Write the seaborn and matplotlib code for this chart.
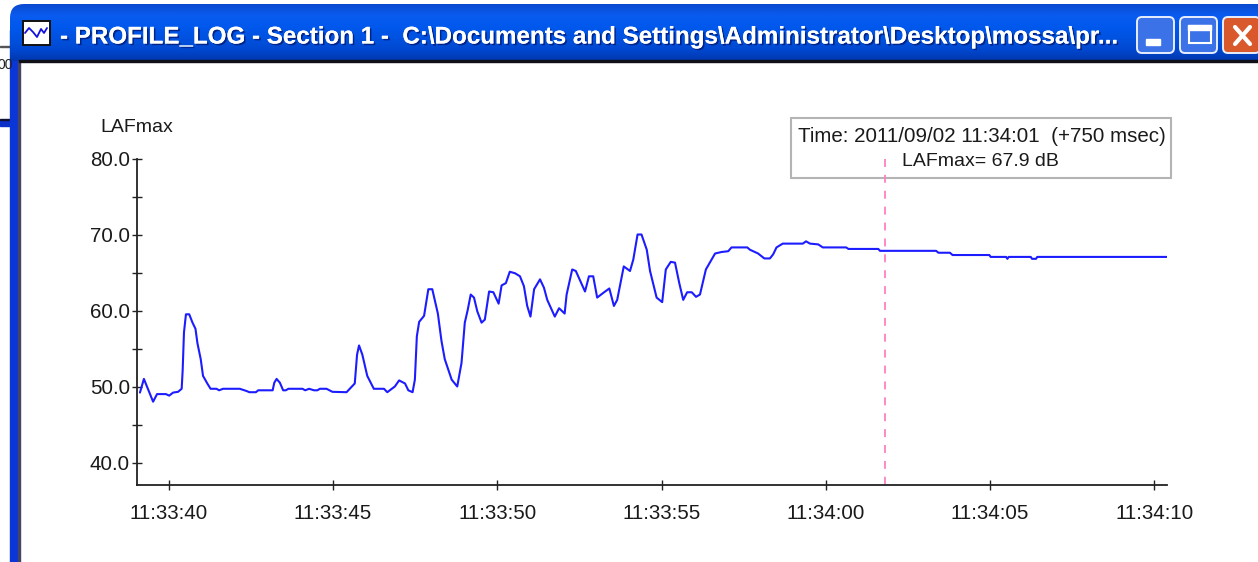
import numpy as np
import seaborn as sns
import matplotlib
matplotlib.use('Agg')
import matplotlib.pyplot as plt
import matplotlib.patheffects as pe
from matplotlib.colors import LinearSegmentedColormap
from matplotlib.patches import FancyBboxPatch, Rectangle

# seconds after 11:33:40
time_s = [
    -0.88, -0.76, -0.63, -0.48, -0.36, -0.09, 0.01, 0.13, 0.28, 0.39, 0.42, 0.46, 0.52, 0.62, 0.72, 0.81,
    0.87, 0.97, 1.04, 1.17, 1.27, 1.45, 1.53, 1.65, 2.16, 2.37, 2.45, 2.65, 2.72, 3.16, 3.21, 3.28,
    3.38, 3.48, 3.56, 3.64, 4.07, 4.15, 4.27, 4.42, 4.52, 4.60, 4.80, 4.98, 5.41, 5.66, 5.73, 5.79,
    5.89, 6.04, 6.24, 6.55, 6.65, 6.88, 7.01, 7.19, 7.29, 7.42, 7.49, 7.55, 7.62, 7.77, 7.90, 8.02,
    8.19, 8.30, 8.40, 8.61, 8.78, 8.91, 9.01, 9.10, 9.19, 9.29, 9.39, 9.52, 9.62, 9.75, 9.88, 10.04,
    10.13, 10.26, 10.38, 10.54, 10.69, 10.81, 10.91, 11.01, 11.12, 11.30, 11.42, 11.52, 11.75, 11.88, 12.05, 12.11,
    12.28, 12.39, 12.67, 12.79, 12.92, 13.04, 13.22, 13.41, 13.55, 13.65, 13.85, 14.04, 14.14, 14.27, 14.39, 14.55,
    14.65, 14.85, 15.02, 15.13, 15.28, 15.41, 15.54, 15.66, 15.78, 15.92, 16.05, 16.17, 16.35, 16.63, 16.83, 17.03,
    17.13, 17.61, 17.69, 17.94, 18.13, 18.30, 18.40, 18.50, 18.69, 19.30, 19.40, 19.52, 19.77, 19.91, 20.62, 20.69,
    21.60, 21.65, 23.36, 23.43, 23.78, 23.86, 24.98, 25.02, 25.49, 25.53, 25.57, 26.24, 26.28, 26.40, 26.44, 30.38,
]
laf_max = [
    49.2, 51.0, 49.6, 48.0, 49.0, 49.0, 48.8, 49.2, 49.3, 49.7, 52.1, 57.1, 59.5, 59.5, 58.4, 57.6,
    55.7, 53.6, 51.4, 50.4, 49.7, 49.7, 49.5, 49.7, 49.7, 49.4, 49.25, 49.25, 49.5, 49.5, 50.5, 51.0,
    50.5, 49.5, 49.5, 49.7, 49.7, 49.5, 49.7, 49.5, 49.5, 49.7, 49.7, 49.3, 49.25, 50.4, 54.2, 55.4,
    54.2, 51.4, 49.7, 49.7, 49.25, 50.0, 50.8, 50.4, 49.5, 49.25, 50.9, 56.6, 58.5, 59.3, 62.8, 62.8,
    59.6, 56.0, 53.6, 50.9, 50.0, 53.1, 58.4, 60.1, 62.1, 61.7, 59.9, 58.4, 58.8, 62.5, 62.4, 60.9,
    63.3, 63.6, 65.1, 64.9, 64.5, 63.2, 60.6, 59.2, 62.8, 64.1, 63.0, 61.4, 59.2, 60.3, 59.6, 62.1,
    65.4, 65.2, 62.5, 64.5, 64.5, 61.7, 62.3, 62.9, 60.6, 61.4, 65.8, 65.2, 66.7, 70.0, 70.0, 68.0,
    65.2, 61.7, 61.1, 65.4, 66.4, 66.3, 63.6, 61.4, 62.4, 62.4, 61.8, 62.1, 65.4, 67.5, 67.7, 67.8,
    68.3, 68.3, 68.0, 67.5, 66.85, 66.85, 67.4, 68.3, 68.8, 68.8, 69.1, 68.8, 68.7, 68.3, 68.3, 68.1,
    68.1, 67.85, 67.85, 67.6, 67.6, 67.3, 67.3, 67.05, 67.05, 66.8, 67.05, 67.05, 66.8, 66.8, 67.05, 67.05,
]
x_tick_pos = [0, 5, 10, 15, 20, 25, 30]
x_tick_labels = ['11:33:40', '11:33:45', '11:33:50', '11:33:55', '11:34:00', '11:34:05', '11:34:10']
y_major = [40, 50, 60, 70, 80]
y_minor = [45, 55, 65, 75]
cursor_time = 21.80
title = r'- PROFILE_LOG - Section 1 -  C:\Documents and Settings\Administrator\Desktop\mossa\pr...'

sns.set_style('white')
plt.rcParams['font.family'] = ['Liberation Sans', 'DejaVu Sans']

W, H = 1258, 562
fig = plt.figure(figsize=(W / 100, H / 100), dpi=100)

# window chrome, drawn in pixel coordinates
bg = fig.add_axes([0, 0, 1, 1], zorder=0)
bg.set_xlim(0, W)
bg.set_ylim(H, 0)
bg.axis('off')

# bits of the window behind
bg.add_patch(Rectangle((0, 46), 12, 1.2, color='#555555'))
bg.text(-3, 65, '00', fontsize=10, color='#222222', va='center')
bg.add_patch(Rectangle((0, 119.5), 12, 6, color='#0a30c8'))
bg.add_patch(Rectangle((0, 119), 12, 1.2, color='#111133'))

# frame and title bar
bg.add_patch(Rectangle((10, 30), 9, H, color='#0a36d8'))
bg.add_patch(Rectangle((18, 60), 1.5, H, color='#444466'))
bar_cmap = LinearSegmentedColormap.from_list('bar', ['#0a4ad0', '#0a5cf0', '#0058ec', '#0052e0', '#0048d0', '#0038b0'])
bar = bg.imshow(np.linspace(0, 1, 60).reshape(-1, 1), extent=(10, W, 61, 4), cmap=bar_cmap, aspect='auto', zorder=1)
clip = FancyBboxPatch((10, 4), W + 40, 120, boxstyle='round,pad=0,rounding_size=14', transform=bg.transData, fc='none', ec='none')
bg.add_patch(clip)
bar.set_clip_path(clip)
bg.set_xlim(0, W)
bg.set_ylim(H, 0)
bg.add_patch(Rectangle((19, 60), W, 2, color='#101018', zorder=2))

# title icon
bg.add_patch(Rectangle((22.5, 20.5), 27, 24, fc='white', ec='#111111', lw=1.4, zorder=3))
icon_x = [25, 29, 33, 37, 41, 44, 47]
icon_y = [33, 28, 32, 37, 29, 33, 28]
bg.plot(icon_x, icon_y, color='#1010e0', lw=1.3, zorder=4)

bg.text(60, 37, title, color='white', fontsize=17.4, family='Liberation Sans', fontweight='bold', va='center', zorder=4,
        path_effects=[pe.withSimplePatchShadow(offset=(1.2, -1.2), shadow_rgbFace='#002080', alpha=0.9), pe.Normal()])

# caption buttons
for bx, face in [(1137, '#3c72e8'), (1180, '#3c72e8'), (1223, '#d9582c')]:
    bg.add_patch(FancyBboxPatch((bx, 17), 37, 36, boxstyle='round,pad=0,rounding_size=5', fc=face, ec='#e8eeff', lw=1.4, zorder=3))
bg.add_patch(Rectangle((1146, 39), 14, 6, color='white', zorder=4))
bg.add_patch(Rectangle((1188.5, 26), 22, 17, fc='none', ec='white', lw=1.5, zorder=4))
bg.add_patch(Rectangle((1188, 25), 23, 5, color='white', zorder=4))
bg.plot([1235, 1250], [27, 44], color='white', lw=3, zorder=4, solid_capstyle='round')
bg.plot([1250, 1235], [27, 44], color='white', lw=3, zorder=4, solid_capstyle='round')

# tooltip box
bg.add_patch(Rectangle((791, 118), 380, 60, fc='white', ec='#b4b4b4', lw=1.5, zorder=3))
bg.text(982, 137, 'Time: 2011/09/02 11:34:01  (+750 msec)', fontsize=14.8, color='#1a1a1a', ha='center', va='center', zorder=4)
bg.text(980, 162, 'LAFmax= 67.9 dB', fontsize=14, color='#1a1a1a', ha='center', va='center', zorder=4)

# chart
ax = fig.add_axes([137 / W, 1 - 485 / H, (1166.7 - 137) / W, (485 - 158.5) / H], zorder=1)
ax.patch.set_alpha(0)
sns.lineplot(x=time_s, y=laf_max, sort=False, estimator=None, color='#1c1cff', linewidth=1.5, ax=ax)
cursor = ax.axvline(cursor_time, color='#ff80c0', linewidth=1.3, linestyle=(0, (4.4, 4.4)))
cursor.set_ydata([1, 0])  # dashes start at the top

ax.set_xlim(-0.97, 30.38)
ax.set_ylim(37.04, 80)
sns.despine(ax=ax)
for side in ['left', 'bottom']:
    ax.spines[side].set_linewidth(1.3)
    ax.spines[side].set_color('#222222')

ax.set_xticks(x_tick_pos, x_tick_labels)
ax.set_yticks(y_major, [f'{v:.1f}' for v in y_major])
ax.set_yticks(y_minor, minor=True)
ax.tick_params(axis='both', which='both', direction='inout', length=7, width=1.0, color='#222222', left=True, bottom=True)
ax.tick_params(axis='x', labelsize=14.8, labelcolor='#1a1a1a', pad=10)
ax.tick_params(axis='y', labelsize=14.8, labelcolor='#1a1a1a', pad=1.5)
ax.set_xlabel('')
ax.set_ylabel('')
bg.text(100.5, 128, 'LAFmax', fontsize=14, color='#1a1a1a', va='center', zorder=4)

fig.savefig('out.png', dpi=100)
